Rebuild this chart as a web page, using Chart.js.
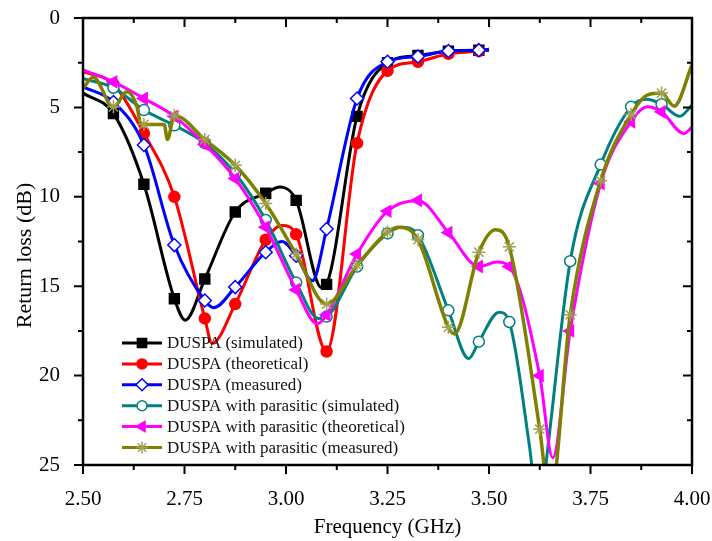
<!DOCTYPE html>
<html>
<head>
<meta charset="utf-8">
<script src="https://cdn.jsdelivr.net/npm/chart.js@4/dist/chart.umd.min.js"></script>
<style>
  html, body { margin: 0; padding: 0; background: #fff; }
  canvas { display: block; }
</style>
</head>
<body>
<canvas id="chart" width="712" height="541"></canvas>
<script>
// frequencies (GHz) and return loss (dB)
const simX = [2.50, 2.575, 2.65, 2.725, 2.752, 2.80, 2.875, 2.95, 2.985, 3.025, 3.088, 3.10, 3.175, 3.25, 3.325, 3.40, 3.475, 3.50];
const simY = [4.2, 5.35, 9.3, 15.7, 16.9, 14.6, 10.85, 9.8, 9.45, 10.2, 15.1, 14.9, 5.5, 2.5, 2.1, 1.85, 1.8, 1.8];

const theoX = [2.50, 2.575, 2.65, 2.725, 2.80, 2.818, 2.875, 2.95, 2.99, 3.025, 3.10, 3.175, 3.25, 3.325, 3.40, 3.475, 3.50];
const theoY = [3.0, 3.7, 6.45, 10.0, 16.8, 18.2, 16.0, 12.4, 11.6, 12.1, 18.65, 7.0, 2.95, 2.45, 2.0, 1.85, 1.75];

const measX = [2.50, 2.575, 2.65, 2.725, 2.80, 2.822, 2.875, 2.95, 2.99, 3.025, 3.065, 3.10, 3.175, 3.25, 3.325, 3.40, 3.475, 3.50];
const measY = [3.85, 4.7, 7.1, 12.7, 15.8, 16.2, 15.05, 13.1, 12.5, 13.3, 14.7, 11.8, 4.5, 2.45, 2.15, 1.85, 1.8, 1.75];

const parSimX = [2.50, 2.575, 2.65, 2.725, 2.80, 2.875, 2.95, 3.025, 3.08, 3.10, 3.175, 3.25, 3.285, 3.325, 3.40, 3.45, 3.475, 3.525, 3.55, 3.60, 3.623, 3.645, 3.70, 3.775, 3.85, 3.887, 3.925, 3.97, 4.00];
const parSimY = [3.4, 3.9, 5.15, 6.0, 7.0, 8.7, 11.3, 14.8, 16.8, 16.7, 13.9, 12.05, 11.7, 12.15, 16.35, 19.05, 18.1, 16.45, 17.0, 24.0, 28.0, 24.0, 13.6, 8.2, 4.97, 4.55, 4.82, 5.5, 4.87];

const parTheoX = [2.50, 2.575, 2.65, 2.725, 2.80, 2.875, 2.95, 3.025, 3.077, 3.10, 3.175, 3.25, 3.325, 3.40, 3.475, 3.52, 3.55, 3.625, 3.657, 3.70, 3.775, 3.85, 3.89, 3.925, 3.98, 4.00];
const parTheoY = [2.9, 3.57, 4.5, 5.5, 7.06, 8.98, 11.7, 15.2, 17.1, 16.6, 13.2, 10.8, 10.2, 12.0, 13.9, 13.65, 13.9, 20.0, 24.6, 17.5, 9.26, 5.8, 4.97, 5.25, 6.46, 6.1];

const parMeasX = [2.50, 2.525, 2.575, 2.608, 2.633, 2.642, 2.65, 2.70, 2.708, 2.725, 2.80, 2.875, 2.95, 3.025, 3.10, 3.175, 3.25, 3.279, 3.325, 3.40, 3.415, 3.475, 3.516, 3.55, 3.625, 3.65, 3.70, 3.775, 3.85, 3.891, 3.925, 3.956, 4.00];
const parMeasY = [3.94, 3.32, 4.97, 4.13, 4.97, 5.9, 5.95, 5.95, 6.8, 5.45, 6.8, 8.24, 10.38, 13.2, 16.0, 13.84, 11.97, 11.7, 12.4, 17.3, 17.67, 13.1, 11.84, 12.8, 23.0, 27.0, 16.6, 9.1, 5.4, 4.3, 4.2, 4.93, 2.63];

// frequencies where the symbols sit
const markerX = [2.575, 2.65, 2.725, 2.80, 2.875, 2.95, 3.025, 3.10, 3.175, 3.25, 3.325, 3.40, 3.475, 3.55, 3.625, 3.70, 3.775, 3.85, 3.925];

const xTicks = [2.50, 2.75, 3.00, 3.25, 3.50, 3.75, 4.00];
const yTicks = [0, 5, 10, 15, 20, 25];

const SERIF = "'Liberation Serif', 'DejaVu Serif', serif";

const isMarker = x => markerX.some(m => Math.abs(m - x) < 0.002);
const pts = (xs, ys) => xs.map((x, i) => ({ x, y: ys[i] }));

const series = [
  { label: "DUSPA (simulated)", xs: simX, ys: simY, color: "#000000", style: "rect", r: 7, fill: "#000000", order: 5 },
  { label: "DUSPA (theoretical)", xs: theoX, ys: theoY, color: "#ff0000", style: "circle", r: 5.5, fill: "#ff0000", order: 4 },
  { label: "DUSPA (measured)", xs: measX, ys: measY, color: "#0000ff", style: "rectRot", r: 6.5, fill: "#ffffff", order: 3 },
  { label: "DUSPA with parasitic (simulated)", xs: parSimX, ys: parSimY, color: "#008080", style: "circle", r: 5.5, fill: "#ffffff", order: 2 },
  { label: "DUSPA with parasitic (theoretical)", xs: parTheoX, ys: parTheoY, color: "#ff00ff", style: "triangle", r: 6.5, fill: "#ff00ff", rot: 270, order: 1 },
  { label: "DUSPA with parasitic (measured)", xs: parMeasX, ys: parMeasY, color: "#808000", style: "star", r: 6.5, fill: "#a0a050", pointColor: "#a0a050", order: 0 }
];

const datasets = series.map(s => ({
  label: s.label,
  data: pts(s.xs, s.ys),
  borderColor: s.color,
  borderWidth: s.style === "star" ? 3.5 : 3,
  cubicInterpolationMode: "monotone",
  pointStyle: s.style,
  pointRotation: s.rot || 0,
  pointRadius: c => isMarker(c.raw.x) ? s.r : 0,
  pointBackgroundColor: s.fill,
  pointBorderColor: s.pointColor || s.color,
  pointBorderWidth: 1.5,
  order: s.order
}));

// axis frame and ticks: outward on bottom/left, mirrored inward on top/right
const frameTicks = {
  id: "frameTicks",
  afterDatasetsDraw(chart) {
    const { ctx, chartArea: a, scales: { x, y } } = chart;
    ctx.save();
    ctx.strokeStyle = "#000";
    ctx.lineWidth = 2.5;
    ctx.strokeRect(a.left, a.top, a.right - a.left, a.bottom - a.top);
    ctx.lineWidth = 2;
    ctx.beginPath();
    for (let i = 0; i <= 12; i++) {
      const v = 2.5 + i * 0.125;
      const px = x.getPixelForValue(v);
      const len = i % 2 === 0 ? 9 : 5;
      ctx.moveTo(px, a.bottom); ctx.lineTo(px, a.bottom + len);
      ctx.moveTo(px, a.top); ctx.lineTo(px, a.top + len);
    }
    for (let i = 0; i <= 10; i++) {
      const py = y.getPixelForValue(i * 2.5);
      const len = i % 2 === 0 ? 9 : 5;
      ctx.moveTo(a.left, py); ctx.lineTo(a.left - len, py);
      ctx.moveTo(a.right, py); ctx.lineTo(a.right - len, py);
    }
    ctx.stroke();

    // y axis title, sits a little below the plot's middle in the original
    ctx.translate(25, (a.top + a.bottom) / 2 + 14);
    ctx.rotate(-Math.PI / 2);
    ctx.font = "22px " + SERIF;
    ctx.fillStyle = "#000";
    ctx.textAlign = "center";
    ctx.textBaseline = "middle";
    ctx.fillText("Return loss (dB)", 0, 0);
    ctx.restore();
  }
};

// legend box inside the plot, lower left
const innerLegend = {
  id: "innerLegend",
  afterDraw(chart) {
    const { ctx } = chart;
    const x0 = 122, x1 = 162, tx = 167, y0 = 343, dy = 20.9;
    ctx.save();
    ctx.font = "17px " + SERIF;
    ctx.textBaseline = "middle";
    series.forEach((s, i) => {
      const yy = y0 + i * dy;
      ctx.strokeStyle = s.color;
      ctx.lineWidth = 3;
      ctx.beginPath(); ctx.moveTo(x0, yy); ctx.lineTo(x1, yy); ctx.stroke();
      ctx.fillStyle = s.fill;
      ctx.strokeStyle = s.pointColor || s.color;
      ctx.lineWidth = 1.5;
      Chart.helpers.drawPoint(ctx, { pointStyle: s.style, rotation: s.rot || 0, radius: s.r - 0.5, borderWidth: 1.5 }, (x0 + x1) / 2, yy);
      ctx.fillStyle = "#111";
      ctx.fillText(s.label, tx, yy + 1);
    });
    ctx.restore();
  }
};

new Chart(document.getElementById("chart").getContext("2d"), {
  type: "line",
  data: { datasets },
  options: {
    responsive: false,
    animation: false,
    devicePixelRatio: 1,
    layout: { padding: { top: 18, right: 20, left: 0, bottom: 0 } },
    plugins: { legend: { display: false }, tooltip: { enabled: false } },
    scales: {
      x: {
        type: "linear",
        min: 2.5, max: 4.0,
        afterFit: s => { s.height = 76; s.paddingLeft = 0; s.paddingRight = 0; },
        afterBuildTicks: s => { s.ticks = xTicks.map(v => ({ value: v })); },
        grid: { display: false },
        border: { display: false },
        ticks: { padding: 14, color: "#000", font: { family: SERIF, size: 21 }, callback: v => v.toFixed(2), maxRotation: 0 },
        title: { display: true, text: "Frequency (GHz)", color: "#000", font: { family: SERIF, size: 21 }, padding: { top: 0, bottom: 1 } }
      },
      y: {
        type: "linear",
        reverse: true,
        min: 0, max: 25,
        afterFit: s => { s.width = 83; s.paddingTop = 0; s.paddingBottom = 0; },
        afterBuildTicks: s => { s.ticks = yTicks.map(v => ({ value: v })); },
        grid: { display: false },
        border: { display: false },
        ticks: { padding: 15, color: "#000", font: { family: SERIF, size: 21 } }
      }
    }
  },
  plugins: [frameTicks, innerLegend]
});
</script>
</body>
</html>
